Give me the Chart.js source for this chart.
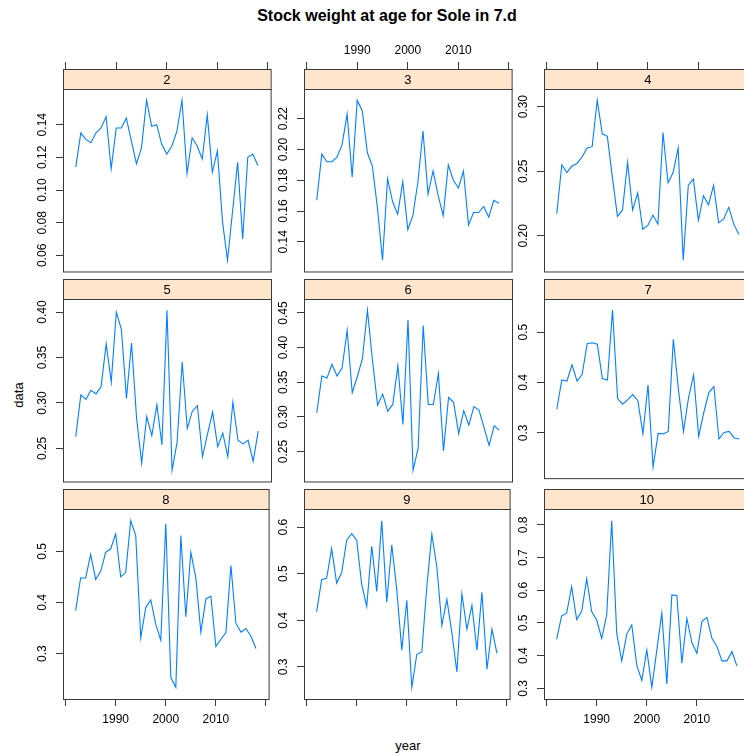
<!DOCTYPE html>
<html>
<head>
<meta charset="utf-8">
<title>Stock weight at age for Sole in 7.d</title>
<script src="https://cdn.jsdelivr.net/npm/chart.js@4.4.1/dist/chart.umd.min.js"></script>
<style>
  html, body { margin: 0; padding: 0; background: #fff; overflow: hidden; }
  body { position: relative; width: 744px; height: 756px; font-family: "Liberation Sans", Arial, sans-serif; }
  canvas { position: absolute; }
  .txt { position: absolute; color: #000; white-space: nowrap; }
  #title { left: 387px; top: 7px; transform: translateX(-50%); font-size: 16px; font-weight: bold; }
  #ylab { left: 18px; top: 395px; transform: translate(-50%, -50%) rotate(-90deg); font-size: 13px; }
  #xlab { left: 408px; top: 745px; transform: translate(-50%, -50%); font-size: 13px; }
</style>
</head>
<body>
<div class="txt" id="title">Stock weight at age for Sole in 7.d</div>
<div class="txt" id="ylab">data</div>
<div class="txt" id="xlab">year</div>

<script>
// stock weight at age (kg), one series per age
const years = [1982, 1983, 1984, 1985, 1986, 1987, 1988, 1989, 1990, 1991,
               1992, 1993, 1994, 1995, 1996, 1997, 1998, 1999, 2000, 2001,
               2002, 2003, 2004, 2005, 2006, 2007, 2008, 2009, 2010, 2011,
               2012, 2013, 2014, 2015, 2016, 2017, 2018];
const ages = ['2', '3', '4', '5', '6', '7', '8', '9', '10'];

const wt2 = [0.114, 0.135, 0.131, 0.129, 0.135, 0.138, 0.145, 0.113, 0.138, 0.138,
             0.144, 0.130, 0.116, 0.126, 0.155, 0.139, 0.140, 0.128, 0.122, 0.127,
             0.136, 0.155, 0.110, 0.132, 0.127, 0.119, 0.146, 0.111, 0.124, 0.081,
             0.057, 0.087, 0.117, 0.070, 0.120, 0.122, 0.115];
const wt3 = [0.167, 0.197, 0.192, 0.192, 0.195, 0.203, 0.223, 0.182, 0.232, 0.225,
             0.198, 0.189, 0.162, 0.128, 0.181, 0.166, 0.158, 0.179, 0.148, 0.157,
             0.179, 0.212, 0.171, 0.186, 0.170, 0.157, 0.190, 0.180, 0.175, 0.186,
             0.151, 0.159, 0.159, 0.163, 0.156, 0.167, 0.165];
const wt4 = [0.217, 0.255, 0.249, 0.254, 0.256, 0.261, 0.268, 0.269, 0.305, 0.279,
             0.277, 0.245, 0.215, 0.220, 0.257, 0.220, 0.233, 0.205, 0.208, 0.216,
             0.209, 0.280, 0.241, 0.249, 0.268, 0.181, 0.239, 0.244, 0.212, 0.231,
             0.224, 0.239, 0.210, 0.213, 0.222, 0.209, 0.201];
const wt5 = [0.263, 0.309, 0.304, 0.314, 0.310, 0.318, 0.365, 0.323, 0.400, 0.381,
             0.305, 0.366, 0.283, 0.234, 0.285, 0.264, 0.298, 0.254, 0.402, 0.226,
             0.257, 0.345, 0.272, 0.291, 0.297, 0.241, 0.266, 0.290, 0.252, 0.267,
             0.241, 0.301, 0.259, 0.255, 0.259, 0.236, 0.269];
const wt6 = [0.306, 0.359, 0.356, 0.376, 0.359, 0.371, 0.425, 0.335, 0.358, 0.384,
             0.454, 0.381, 0.317, 0.333, 0.308, 0.318, 0.374, 0.289, 0.440, 0.223,
             0.255, 0.432, 0.318, 0.318, 0.363, 0.251, 0.328, 0.321, 0.276, 0.309,
             0.288, 0.315, 0.310, 0.285, 0.259, 0.287, 0.281];
const wt7 = [0.347, 0.405, 0.403, 0.435, 0.403, 0.416, 0.477, 0.479, 0.476, 0.408,
             0.405, 0.544, 0.368, 0.357, 0.366, 0.376, 0.364, 0.298, 0.395, 0.232,
             0.299, 0.298, 0.303, 0.486, 0.387, 0.303, 0.370, 0.415, 0.293, 0.340,
             0.380, 0.392, 0.288, 0.301, 0.303, 0.290, 0.288];
const wt8 = [0.384, 0.448, 0.448, 0.494, 0.445, 0.461, 0.498, 0.505, 0.534, 0.450,
             0.459, 0.560, 0.531, 0.331, 0.390, 0.405, 0.357, 0.326, 0.554, 0.253,
             0.234, 0.531, 0.372, 0.498, 0.448, 0.342, 0.407, 0.412, 0.314, 0.328,
             0.341, 0.472, 0.359, 0.342, 0.349, 0.334, 0.310];
const wt9 = [0.418, 0.487, 0.490, 0.554, 0.480, 0.502, 0.572, 0.586, 0.572, 0.477,
             0.430, 0.559, 0.462, 0.614, 0.439, 0.562, 0.466, 0.336, 0.443, 0.256,
             0.327, 0.332, 0.473, 0.585, 0.515, 0.389, 0.445, 0.373, 0.289, 0.457,
             0.381, 0.432, 0.336, 0.460, 0.295, 0.381, 0.329];
const wt10 = [0.450, 0.522, 0.530, 0.611, 0.511, 0.535, 0.635, 0.535, 0.509, 0.453,
              0.525, 0.813, 0.468, 0.384, 0.466, 0.494, 0.371, 0.324, 0.417, 0.303,
              0.417, 0.530, 0.313, 0.586, 0.584, 0.377, 0.514, 0.440, 0.407, 0.504,
              0.517, 0.453, 0.428, 0.384, 0.384, 0.412, 0.368];

// y tick labels for each panel (free scales)
const yTicks2 = ['0.06', '0.08', '0.10', '0.12', '0.14'];
const yTicks3 = ['0.14', '0.16', '0.18', '0.20', '0.22'];
const yTicks4 = ['0.20', '0.25', '0.30'];
const yTicks5 = ['0.25', '0.30', '0.35', '0.40'];
const yTicks6 = ['0.25', '0.30', '0.35', '0.40', '0.45'];
const yTicks7 = ['0.3', '0.4', '0.5'];
const yTicks8 = ['0.3', '0.4', '0.5'];
const yTicks9 = ['0.3', '0.4', '0.5', '0.6'];
const yTicks10 = ['0.3', '0.4', '0.5', '0.6', '0.7', '0.8'];

// shared x axis
const xTicks = [1980, 1990, 2000, 2010, 2020];
const xTickLabels = ['', '1990', '2000', '2010', ''];

const series = [wt2, wt3, wt4, wt5, wt6, wt7, wt8, wt9, wt10];
const yTicks = [yTicks2, yTicks3, yTicks4, yTicks5, yTicks6, yTicks7, yTicks8, yTicks9, yTicks10];

// panel geometry
const boxL = [63, 304, 544];
const boxT = [89, 299, 509];
const boxW = 208, boxH = 190;
const stripH = 20, yAxisW = 44, topAxisH = 46, botAxisH = 32;
const tickLen = 7;
const frameCol = '#3a3a3a';
const lineCol = '#0080ff';
const stripCol = '#ffe5cc';
const fontFamily = '"Liberation Sans", Arial, sans-serif';

Chart.defaults.font.family = fontFamily;
Chart.defaults.color = '#000';

const measure = document.createElement('canvas').getContext('2d');
measure.font = '12px ' + fontFamily;

// lattice-like padding of the data range
function padded(vals) {
  const lo = Math.min(...vals), hi = Math.max(...vals);
  const d = (hi - lo) * 0.07;
  return [lo - d, hi + d];
}

// strip with the age label plus the panel box
const panelFrame = {
  id: 'panelFrame',
  afterDraw(chart, args, opts) {
    const { ctx, chartArea: a } = chart;
    const w = a.right - a.left, h = a.bottom - a.top;
    ctx.save();
    ctx.fillStyle = stripCol;
    ctx.fillRect(a.left, a.top - stripH, w, stripH);
    ctx.strokeStyle = frameCol;
    ctx.lineWidth = 1;
    ctx.strokeRect(a.left + 0.5, a.top - stripH + 0.5, w, stripH);
    ctx.strokeRect(a.left + 0.5, a.top + 0.5, w, h);
    ctx.fillStyle = '#000';
    ctx.font = '13px ' + fontFamily;
    ctx.textAlign = 'center';
    ctx.textBaseline = 'middle';
    ctx.fillText(opts.label, a.left + w / 2, a.top - stripH / 2 + 1);
    ctx.restore();
  }
};

const [xMin, xMax] = padded(years);

ages.forEach((age, i) => {
  const r = Math.floor(i / 3), c = i % 3;
  const vals = series[i];
  const labels = yTicks[i];
  const [yMin, yMax] = padded(vals);
  const widest = Math.max(...labels.map(l => measure.measureText(l).width));

  const topH = r === 0 ? topAxisH : stripH;
  const botH = r === 2 ? botAxisH : 1;
  const canvas = document.createElement('canvas');
  canvas.width = yAxisW + boxW + 1;
  canvas.height = topH + boxH + botH;
  canvas.style.left = (boxL[c] - yAxisW) + 'px';
  canvas.style.top = (boxT[r] - topH) + 'px';
  document.body.appendChild(canvas);

  // middle row has no x axis drawn
  const showX = r !== 1;
  const xAxis = {
    type: 'linear',
    min: xMin,
    max: xMax,
    display: showX,
    position: r === 0 ? 'top' : 'bottom',
    afterBuildTicks: s => { s.ticks = xTicks.map(v => ({ value: v })); },
    afterFit: s => { s.height = showX ? (r === 0 ? topAxisH : botAxisH) : 0; },
    grid: { drawOnChartArea: false, color: frameCol, tickLength: r === 0 ? stripH + tickLen : tickLen },
    border: { display: false },
    ticks: {
      autoSkip: false,
      maxRotation: 0,
      padding: r === 0 ? 4 : 6,
      font: { size: 12 },
      callback: (v, k) => ((r === 0 && c === 1) || (r === 2 && c !== 1)) ? xTickLabels[k] : ''
    }
  };

  const yAxis = {
    type: 'linear',
    min: yMin,
    max: yMax,
    position: 'left',
    afterBuildTicks: s => { s.ticks = labels.map(l => ({ value: Number(l) })); },
    afterFit: s => { s.width = yAxisW; },
    grid: { drawOnChartArea: false, color: frameCol, tickLength: tickLen },
    border: { display: false },
    ticks: {
      autoSkip: false,
      minRotation: 90,
      maxRotation: 90,
      crossAlign: 'center',
      padding: 13 - widest / 2,
      font: { size: 12 },
      callback: (v, k) => labels[k]
    }
  };

  new Chart(canvas, {
    type: 'line',
    data: {
      datasets: [{
        label: age,
        data: years.map((yr, k) => ({ x: yr, y: vals[k] })),
        borderColor: lineCol,
        borderWidth: 1.1,
        pointRadius: 0,
        tension: 0,
        fill: false
      }]
    },
    options: {
      responsive: false,
      animation: false,
      layout: { padding: { left: 0, right: 1, top: r === 0 ? 0 : stripH, bottom: r === 2 ? 0 : 1 } },
      scales: { x: xAxis, y: yAxis },
      plugins: {
        legend: { display: false },
        tooltip: { enabled: false },
        panelFrame: { label: age }
      }
    },
    plugins: [panelFrame]
  });
});
</script>
</body>
</html>
